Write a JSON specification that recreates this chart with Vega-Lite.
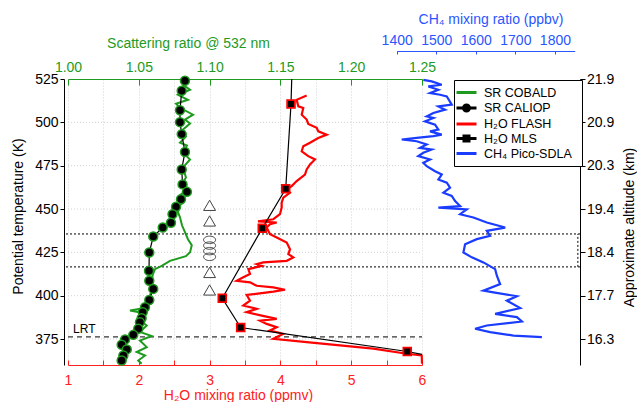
{
  "$schema": "https://vega.github.io/schema/vega-lite/v6.json",
  "width": 516,
  "height": 286,
  "autosize": {"type": "none"},
  "padding": {"left": 64, "top": 79, "right": 57, "bottom": 37},
  "config": {
    "font": "Liberation Sans",
    "view": {"stroke": null},
    "axis": {"labelFontSize": 14, "titleFontSize": 14, "titleFontWeight": "normal", "grid": false, "domainWidth": 1, "tickWidth": 1, "labelFlush": false, "labelOverlap": false}
  },
  "datasets": {
    "hgrid": [
      {"theta": 375, "h2o": 1, "h2o2": 6}, {"theta": 400, "h2o": 1, "h2o2": 6}, {"theta": 425, "h2o": 1, "h2o2": 6},
      {"theta": 450, "h2o": 1, "h2o2": 6}, {"theta": 475, "h2o": 1, "h2o2": 6}, {"theta": 500, "h2o": 1, "h2o2": 6}
    ],
    "cobald": [
      {"sr": 1.0812, "theta": 521.7}, {"sr": 1.0862, "theta": 518.8}, {"sr": 1.0777, "theta": 515.9}, {"sr": 1.0847, "theta": 513.0},
      {"sr": 1.0763, "theta": 510.7}, {"sr": 1.0791, "theta": 508.4}, {"sr": 1.0883, "theta": 504.4}, {"sr": 1.0826, "theta": 501.6},
      {"sr": 1.0862, "theta": 499.3}, {"sr": 1.0812, "theta": 495.8}, {"sr": 1.0833, "theta": 491.8}, {"sr": 1.0791, "theta": 488.3},
      {"sr": 1.0840, "theta": 486.6}, {"sr": 1.0812, "theta": 482.6}, {"sr": 1.0862, "theta": 478.6}, {"sr": 1.0812, "theta": 474.0},
      {"sr": 1.0833, "theta": 468.2}, {"sr": 1.0805, "theta": 464.2}, {"sr": 1.0840, "theta": 461.3}, {"sr": 1.0791, "theta": 457.9},
      {"sr": 1.0819, "theta": 454.4}, {"sr": 1.0784, "theta": 451.5}, {"sr": 1.0777, "theta": 448.1}, {"sr": 1.0791, "theta": 445.2},
      {"sr": 1.0805, "theta": 440.6}, {"sr": 1.0826, "theta": 436.6}, {"sr": 1.0847, "theta": 432.6}, {"sr": 1.0874, "theta": 429.1},
      {"sr": 1.0862, "theta": 425.1}, {"sr": 1.0833, "theta": 422.8}, {"sr": 1.0720, "theta": 420.1}, {"sr": 1.0662, "theta": 417.2},
      {"sr": 1.0614, "theta": 415.3}, {"sr": 1.0600, "theta": 412.5}, {"sr": 1.0591, "theta": 409.0}, {"sr": 1.0598, "theta": 405.6},
      {"sr": 1.0579, "theta": 400.0}, {"sr": 1.0558, "theta": 396.4}, {"sr": 1.0544, "theta": 392.9}, {"sr": 1.0438, "theta": 391.4},
      {"sr": 1.0530, "theta": 390.0}, {"sr": 1.0494, "theta": 386.6}, {"sr": 1.0556, "theta": 382.8}, {"sr": 1.0508, "theta": 379.1},
      {"sr": 1.0591, "theta": 376.7}, {"sr": 1.0508, "theta": 374.1}, {"sr": 1.0556, "theta": 370.3}, {"sr": 1.0485, "theta": 367.5},
      {"sr": 1.0544, "theta": 365.5}, {"sr": 1.0496, "theta": 362.6}, {"sr": 1.0520, "theta": 360.7}
    ],
    "caliop": [
      {"sr": 1.0826, "theta": 524.0}, {"sr": 1.0803, "theta": 518.2}, {"sr": 1.0791, "theta": 507.0}, {"sr": 1.0791, "theta": 500.1},
      {"sr": 1.0803, "theta": 493.2}, {"sr": 1.0826, "theta": 482.9}, {"sr": 1.0803, "theta": 472.8}, {"sr": 1.0809, "theta": 464.2},
      {"sr": 1.0840, "theta": 459.9}, {"sr": 1.0798, "theta": 455.6}, {"sr": 1.0763, "theta": 451.3}, {"sr": 1.0738, "theta": 447.0},
      {"sr": 1.0727, "theta": 442.1}, {"sr": 1.0669, "theta": 439.3}, {"sr": 1.0602, "theta": 434.1}, {"sr": 1.0574, "theta": 424.9},
      {"sr": 1.0572, "theta": 414.4}, {"sr": 1.0574, "theta": 408.6}, {"sr": 1.0602, "theta": 403.9}, {"sr": 1.0574, "theta": 397.5},
      {"sr": 1.0544, "theta": 393.3}, {"sr": 1.0528, "theta": 390.5}, {"sr": 1.0520, "theta": 387.0}, {"sr": 1.0508, "theta": 384.7},
      {"sr": 1.0496, "theta": 380.9}, {"sr": 1.0461, "theta": 377.4}, {"sr": 1.0403, "theta": 374.7}, {"sr": 1.0379, "theta": 371.7},
      {"sr": 1.0415, "theta": 369.0}, {"sr": 1.0391, "theta": 365.5}, {"sr": 1.0379, "theta": 362.6}
    ],
    "flash": [
      {"h2o": 4.371, "theta": 515.5}, {"h2o": 4.230, "theta": 513.0}, {"h2o": 4.253, "theta": 509.2}, {"h2o": 4.323, "theta": 508.3},
      {"h2o": 4.301, "theta": 504.4}, {"h2o": 4.371, "theta": 501.6}, {"h2o": 4.394, "theta": 499.1}, {"h2o": 4.513, "theta": 496.8},
      {"h2o": 4.535, "theta": 494.8}, {"h2o": 4.654, "theta": 492.9}, {"h2o": 4.535, "theta": 491.0}, {"h2o": 4.418, "theta": 488.2},
      {"h2o": 4.323, "theta": 486.2}, {"h2o": 4.301, "theta": 483.3}, {"h2o": 4.394, "theta": 480.5}, {"h2o": 4.489, "theta": 478.6},
      {"h2o": 4.418, "theta": 475.7}, {"h2o": 4.371, "theta": 472.8}, {"h2o": 4.347, "theta": 469.9}, {"h2o": 4.230, "theta": 466.1},
      {"h2o": 4.160, "theta": 463.2}, {"h2o": 4.089, "theta": 461.3}, {"h2o": 4.136, "theta": 459.4}, {"h2o": 4.041, "theta": 456.6},
      {"h2o": 4.018, "theta": 453.7}, {"h2o": 4.018, "theta": 450.8}, {"h2o": 3.994, "theta": 447.0}, {"h2o": 3.900, "theta": 444.1},
      {"h2o": 3.684, "theta": 442.9}, {"h2o": 3.948, "theta": 442.2}, {"h2o": 3.853, "theta": 441.2}, {"h2o": 3.806, "theta": 439.3},
      {"h2o": 3.853, "theta": 435.5}, {"h2o": 3.948, "theta": 433.6}, {"h2o": 4.089, "theta": 430.7}, {"h2o": 4.136, "theta": 426.8},
      {"h2o": 4.112, "theta": 424.0}, {"h2o": 4.182, "theta": 422.1}, {"h2o": 4.089, "theta": 420.1}, {"h2o": 3.758, "theta": 419.2},
      {"h2o": 3.665, "theta": 418.2}, {"h2o": 3.736, "theta": 417.2}, {"h2o": 3.547, "theta": 415.3}, {"h2o": 3.571, "theta": 412.5},
      {"h2o": 3.476, "theta": 410.6}, {"h2o": 3.383, "theta": 408.6}, {"h2o": 3.571, "theta": 407.7}, {"h2o": 3.665, "theta": 405.7},
      {"h2o": 3.900, "theta": 404.8}, {"h2o": 4.065, "theta": 403.4}, {"h2o": 3.900, "theta": 402.3}, {"h2o": 3.524, "theta": 400.4},
      {"h2o": 3.571, "theta": 397.1}, {"h2o": 3.476, "theta": 394.3}, {"h2o": 3.665, "theta": 392.4}, {"h2o": 3.524, "theta": 390.5},
      {"h2o": 3.736, "theta": 388.5}, {"h2o": 3.948, "theta": 386.6}, {"h2o": 3.712, "theta": 385.6}, {"h2o": 3.806, "theta": 383.7},
      {"h2o": 3.948, "theta": 381.8}, {"h2o": 3.853, "theta": 379.9}, {"h2o": 4.041, "theta": 378.0}, {"h2o": 3.900, "theta": 375.1},
      {"h2o": 4.371, "theta": 373.2}, {"h2o": 4.842, "theta": 371.3}, {"h2o": 5.312, "theta": 369.4}, {"h2o": 5.784, "theta": 366.5},
      {"h2o": 5.996, "theta": 365.5}, {"h2o": 6.0, "theta": 360.8}
    ],
    "mls": [
      {"h2o": 4.16, "theta": 525.0}, {"h2o": 4.150, "theta": 510.6}, {"h2o": 4.075, "theta": 461.7}, {"h2o": 3.744, "theta": 438.9},
      {"h2o": 3.179, "theta": 398.5}, {"h2o": 3.439, "theta": 381.6}, {"h2o": 5.792, "theta": 367.8}, {"h2o": 6.0, "theta": 366.1}
    ],
    "ch4": [
      {"ch4": 1467.3, "theta": 524.5}, {"ch4": 1488.6, "theta": 523.6}, {"ch4": 1513.9, "theta": 521.7}, {"ch4": 1480.0, "theta": 520.7},
      {"ch4": 1505.3, "theta": 518.8}, {"ch4": 1484.3, "theta": 516.9}, {"ch4": 1509.6, "theta": 515.9}, {"ch4": 1526.6, "theta": 514.9},
      {"ch4": 1539.2, "theta": 510.2}, {"ch4": 1505.3, "theta": 509.2}, {"ch4": 1522.3, "theta": 507.3}, {"ch4": 1492.7, "theta": 505.4},
      {"ch4": 1475.9, "theta": 503.4}, {"ch4": 1492.7, "theta": 502.5}, {"ch4": 1471.6, "theta": 500.6}, {"ch4": 1497.0, "theta": 498.7},
      {"ch4": 1505.3, "theta": 495.8}, {"ch4": 1484.3, "theta": 494.8}, {"ch4": 1513.9, "theta": 492.9}, {"ch4": 1492.7, "theta": 492.0},
      {"ch4": 1450.6, "theta": 491.0}, {"ch4": 1412.7, "theta": 490.1}, {"ch4": 1450.6, "theta": 489.1}, {"ch4": 1475.9, "theta": 487.2},
      {"ch4": 1459.0, "theta": 485.3}, {"ch4": 1488.6, "theta": 484.3}, {"ch4": 1467.3, "theta": 482.4}, {"ch4": 1454.7, "theta": 480.5},
      {"ch4": 1484.3, "theta": 478.6}, {"ch4": 1467.3, "theta": 476.7}, {"ch4": 1475.9, "theta": 474.7}, {"ch4": 1497.0, "theta": 471.8},
      {"ch4": 1513.9, "theta": 469.9}, {"ch4": 1505.3, "theta": 467.0}, {"ch4": 1526.6, "theta": 465.2}, {"ch4": 1534.9, "theta": 462.3},
      {"ch4": 1518.0, "theta": 459.4}, {"ch4": 1539.2, "theta": 457.5}, {"ch4": 1547.6, "theta": 454.6}, {"ch4": 1560.3, "theta": 451.7},
      {"ch4": 1505.3, "theta": 450.8}, {"ch4": 1577.2, "theta": 449.8}, {"ch4": 1560.3, "theta": 447.0}, {"ch4": 1593.9, "theta": 445.1},
      {"ch4": 1627.8, "theta": 442.2}, {"ch4": 1674.2, "theta": 439.3}, {"ch4": 1627.8, "theta": 437.4}, {"ch4": 1636.2, "theta": 434.5},
      {"ch4": 1602.5, "theta": 432.6}, {"ch4": 1572.9, "theta": 429.7}, {"ch4": 1568.6, "theta": 424.9}, {"ch4": 1589.9, "theta": 422.1},
      {"ch4": 1619.2, "theta": 419.2}, {"ch4": 1648.9, "theta": 415.3}, {"ch4": 1653.2, "theta": 411.5}, {"ch4": 1661.5, "theta": 406.7},
      {"ch4": 1619.2, "theta": 402.9}, {"ch4": 1644.6, "theta": 401.9}, {"ch4": 1703.8, "theta": 399.7}, {"ch4": 1678.5, "theta": 397.1},
      {"ch4": 1712.2, "theta": 392.8}, {"ch4": 1648.9, "theta": 389.5}, {"ch4": 1703.8, "theta": 387.6}, {"ch4": 1716.5, "theta": 385.1},
      {"ch4": 1627.8, "theta": 382.8}, {"ch4": 1598.2, "theta": 380.9}, {"ch4": 1636.2, "theta": 379.0}, {"ch4": 1695.2, "theta": 377.0},
      {"ch4": 1767.1, "theta": 376.1}
    ]
  },
  "encoding": {
    "y": {"field": "theta", "type": "quantitative", "scale": {"domain": [360, 525], "nice": false, "zero": false}, "axis": null}
  },
  "layer": [
    {
      "data": {"name": "hgrid"},
      "mark": {"type": "rule", "color": "#d2d2d2", "strokeDash": [1, 2], "strokeWidth": 1},
      "encoding": {
        "x": {"field": "h2o", "type": "quantitative", "scale": {"domain": [1, 6], "range": [4, 358]}, "axis": null},
        "x2": {"field": "h2o2"}
      }
    },
    {
      "data": {"values": [{"theta": 435.6}, {"theta": 416.6}]},
      "mark": {"type": "rule", "color": "black", "strokeDash": [2, 2], "strokeWidth": 1},
      "encoding": {}
    },
    {
      "data": {"values": [{"ch4": 1858, "theta": 416.6, "theta2": 435.6}]},
      "mark": {"type": "rule", "color": "black", "strokeDash": [2, 2], "strokeWidth": 1},
      "encoding": {
        "x": {"field": "ch4", "type": "quantitative", "scale": {"domain": [1400, 1850], "range": [332.7, 510.7]}, "axis": null},
        "y2": {"field": "theta2"}
      }
    },
    {
      "data": {"values": [{"h2o": 1, "h2o2": 6, "theta": 376.2}]},
      "mark": {"type": "rule", "color": "black", "strokeDash": [5, 4], "strokeWidth": 1},
      "encoding": {
        "x": {"field": "h2o", "type": "quantitative", "scale": {"domain": [1, 6], "range": [4, 358]}, "axis": null},
        "x2": {"field": "h2o2"}
      }
    },
    {
      "data": {"values": [{"h2o": 1.23, "theta": 380.5, "label": "LRT"}]},
      "mark": {"type": "text", "fontSize": 12, "align": "center", "baseline": "middle", "color": "black"},
      "encoding": {
        "x": {"field": "h2o", "type": "quantitative", "scale": {"domain": [1, 6], "range": [4, 358]}, "axis": null},
        "text": {"field": "label"}
      }
    },
    {
      "data": {"values": [{"h2o": 3, "theta": 452.1}, {"h2o": 3, "theta": 443.1}, {"h2o": 3, "theta": 413.4}, {"h2o": 3, "theta": 403.3}]},
      "mark": {"type": "point", "shape": "triangle-up", "size": 140, "filled": true, "fill": "white", "stroke": "#444444", "strokeWidth": 1, "opacity": 1},
      "encoding": {
        "x": {"field": "h2o", "type": "quantitative", "scale": {"domain": [1, 6], "range": [4, 358]}, "axis": null}
      }
    },
    {
      "data": {"values": [{"h2o": 3, "theta": 432.2}, {"h2o": 3, "theta": 428.9}, {"h2o": 3, "theta": 425.7}, {"h2o": 3, "theta": 422.4}]},
      "mark": {"type": "point", "shape": "M-1,0A1,0.62 0 1,1 1,0A1,0.62 0 1,1 -1,0Z", "size": 144, "filled": false, "stroke": "#444444", "strokeWidth": 1, "opacity": 1},
      "encoding": {
        "x": {"field": "h2o", "type": "quantitative", "scale": {"domain": [1, 6], "range": [4, 358]}, "axis": null}
      }
    },
    {
      "data": {"name": "cobald"},
      "mark": {"type": "line", "strokeWidth": 2},
      "encoding": {
        "x": {"field": "sr", "type": "quantitative", "scale": {"domain": [1, 1.25], "range": [4, 358]},
          "axis": {"orient": "top", "values": [1, 1.05, 1.1, 1.15, 1.2, 1.25], "format": ".2f", "tickSize": -6, "labelPadding": 11,
            "domainColor": "#1e9a1e", "tickColor": "#1e9a1e", "labelColor": "#1e9a1e", "title": "Scattering ratio @ 532 nm", "titleColor": "#1e9a1e",
            "titleX": 124, "titleY": -36, "titleBaseline": "middle", "titleAnchor": "middle", "titleAlign": "center"}},
        "order": {"field": "theta", "type": "quantitative"},
        "color": {"datum": "SR COBALD", "type": "nominal",
          "scale": {"domain": ["SR COBALD", "SR CALIOP", "H₂O FLASH", "H₂O MLS", "CH₄  Pico-SDLA"], "range": ["#1e9a1e", "#000000", "#ff0000", "#000000", "#1a3cff"]},
          "legend": {"orient": "none", "legendX": 390, "legendY": 1, "title": null, "symbolType": "M-2,0L2,0", "symbolSize": 100, "symbolStrokeWidth": 3,
            "labelFontSize": 12.5, "labelColor": "black", "rowPadding": -0.5, "padding": 6, "labelOffset": 11, "strokeColor": "black", "fillColor": "white", "cornerRadius": 0, "zindex": 1,
            "encode": {"symbols": {"update": {
              "shape": {"signal": "datum.value === 'SR CALIOP' ? 'M-2,0L2,0M-0.6,0A0.6,0.6 0 1,1 0.6,0A0.6,0.6 0 1,1 -0.6,0Z' : datum.value === 'H₂O MLS' ? 'M-2,0L2,0M-0.5,-0.5L0.5,-0.5L0.5,0.5L-0.5,0.5Z' : 'M-2,0L2,0'"},
              "fill": {"signal": "datum.value === 'SR CALIOP' || datum.value === 'H₂O MLS' ? 'black' : 'transparent'"},
              "strokeWidth": {"value": 3},
              "opacity": {"value": 1}}}}}}
      }
    },
    {
      "data": {"name": "caliop"},
      "mark": {"type": "line", "strokeWidth": 1.2},
      "encoding": {
        "x": {"field": "sr", "type": "quantitative", "scale": {"domain": [1, 1.25], "range": [4, 358]}, "axis": null},
        "order": {"field": "theta", "type": "quantitative"},
        "color": {"datum": "SR CALIOP", "type": "nominal",
          "scale": {"domain": ["SR COBALD", "SR CALIOP", "H₂O FLASH", "H₂O MLS", "CH₄  Pico-SDLA"], "range": ["#1e9a1e", "#000000", "#ff0000", "#000000", "#1a3cff"]}}
      }
    },
    {
      "data": {"name": "caliop"},
      "mark": {"type": "point", "shape": "circle", "filled": true, "fill": "black", "stroke": "#1e9a1e", "strokeWidth": 1.5, "size": 80, "opacity": 1},
      "encoding": {
        "x": {"field": "sr", "type": "quantitative", "scale": {"domain": [1, 1.25], "range": [4, 358]}, "axis": null}
      }
    },
    {
      "data": {"name": "flash"},
      "mark": {"type": "line", "strokeWidth": 2.2},
      "encoding": {
        "x": {"field": "h2o", "type": "quantitative", "scale": {"domain": [1, 6], "range": [4, 358]},
          "axis": {"orient": "bottom", "values": [1, 1.5, 2, 2.5, 3, 3.5, 4, 4.5, 5, 5.5, 6], "labelExpr": "datum.value % 1 === 0 ? format(datum.value, 'd') : ''",
            "tickSize": -5, "labelPadding": 13, "domainColor": "#ff2020", "tickColor": "#ff2020", "labelColor": "#ff2020",
            "grid": true, "gridColor": "#d2d2d2", "gridDash": [1, 2], "gridWidth": 1,
            "title": "H₂O mixing ratio (ppmv)", "titleColor": "#ff2020", "titleX": 174, "titleY": 30, "titleBaseline": "middle", "titleAlign": "center"}},
        "y": {"field": "theta", "type": "quantitative", "scale": {"domain": [360, 525], "nice": false, "zero": false},
          "axis": {"orient": "left", "values": [375, 400, 425, 450, 475, 500, 525], "format": "d", "tickSize": 4, "labelPadding": 2,
            "domainColor": "black", "tickColor": "black", "labelColor": "black", "title": "Potential temperature (K)", "titleColor": "black",
            "titleX": -46, "titleY": 137, "titleAngle": -90, "titleBaseline": "middle", "titleAlign": "center"}},
        "order": {"field": "theta", "type": "quantitative"},
        "color": {"datum": "H₂O FLASH", "type": "nominal",
          "scale": {"domain": ["SR COBALD", "SR CALIOP", "H₂O FLASH", "H₂O MLS", "CH₄  Pico-SDLA"], "range": ["#1e9a1e", "#000000", "#ff0000", "#000000", "#1a3cff"]}}
      }
    },
    {
      "data": {"name": "mls"},
      "mark": {"type": "line", "strokeWidth": 1.2},
      "encoding": {
        "x": {"field": "h2o", "type": "quantitative", "scale": {"domain": [1, 6], "range": [4, 358]}, "axis": null},
        "order": {"field": "theta", "type": "quantitative"},
        "color": {"datum": "H₂O MLS", "type": "nominal",
          "scale": {"domain": ["SR COBALD", "SR CALIOP", "H₂O FLASH", "H₂O MLS", "CH₄  Pico-SDLA"], "range": ["#1e9a1e", "#000000", "#ff0000", "#000000", "#1a3cff"]}}
      }
    },
    {
      "data": {"name": "mls"},
      "transform": [{"filter": "datum.theta < 524 && datum.h2o < 5.95"}],
      "mark": {"type": "point", "shape": "square", "filled": true, "fill": "black", "stroke": "#ff0000", "strokeWidth": 1.8, "size": 60, "opacity": 1},
      "encoding": {
        "x": {"field": "h2o", "type": "quantitative", "scale": {"domain": [1, 6], "range": [4, 358]}, "axis": null}
      }
    },
    {
      "data": {"name": "ch4"},
      "mark": {"type": "line", "strokeWidth": 2.2},
      "encoding": {
        "x": {"field": "ch4", "type": "quantitative", "scale": {"domain": [1400, 1850], "range": [332.7, 510.7]},
          "axis": {"orient": "top", "offset": 28, "values": [1400, 1500, 1600, 1700, 1800], "format": "d", "tickSize": -3, "labelPadding": 6.5,
            "domainColor": "#2a55ff", "tickColor": "#2a55ff", "labelColor": "#2a55ff", "title": "CH₄ mixing ratio (ppbv)", "titleColor": "#2a55ff",
            "titleX": 426.5, "titleY": -31.5, "titleBaseline": "middle", "titleAlign": "center"}},
        "y": {"field": "theta", "type": "quantitative", "scale": {"domain": [360, 525], "nice": false, "zero": false},
          "axis": {"orient": "right", "values": [375, 400, 425, 450, 475, 500, 525], "tickSize": 5, "labelPadding": 1.5,
            "labelExpr": "datum.value == 525 ? '21.9' : datum.value == 500 ? '20.9' : datum.value == 475 ? '20.3' : datum.value == 450 ? '19.4' : datum.value == 425 ? '18.4' : datum.value == 400 ? '17.7' : '16.3'",
            "domainColor": "black", "tickColor": "black", "labelColor": "black", "title": "Approximate altitude (km)", "titleColor": "black",
            "titleX": 49, "titleY": 148, "titleAngle": -90, "titleBaseline": "middle", "titleAlign": "center"}},
        "order": {"field": "theta", "type": "quantitative"},
        "color": {"datum": "CH₄  Pico-SDLA", "type": "nominal",
          "scale": {"domain": ["SR COBALD", "SR CALIOP", "H₂O FLASH", "H₂O MLS", "CH₄  Pico-SDLA"], "range": ["#1e9a1e", "#000000", "#ff0000", "#000000", "#1a3cff"]}}
      }
    }
  ],
  "resolve": {"scale": {"x": "independent"}, "axis": {"x": "independent", "y": "independent"}}
}
